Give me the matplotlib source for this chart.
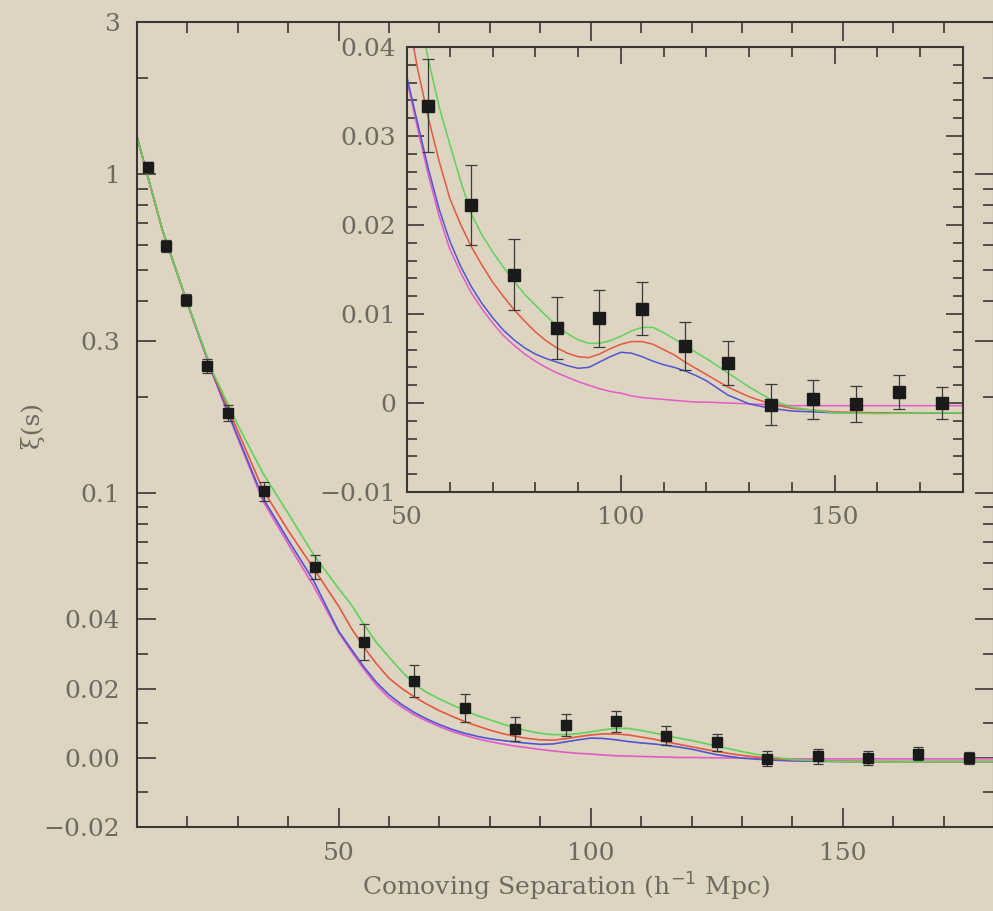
import numpy as np
import matplotlib
matplotlib.use("Agg")
import matplotlib.pyplot as plt

# measured correlation function, h^-1 Mpc
sep = [12.2, 15.8, 19.7, 23.9, 28.1, 35.2, 45.3, 55, 65, 75, 85, 95, 105,
       115, 125, 135, 145, 155, 165, 175]
xi = [1.05, 0.595, 0.403, 0.25, 0.178, 0.101, 0.0585, 0.0334, 0.0222, 0.0144,
      0.0084, 0.0095, 0.0106, 0.0064, 0.0045, -0.0002, 0.0004, -0.0001,
      0.0012, 0.0000]
xi_err = [0.04, 0.025, 0.018, 0.013, 0.01, 0.007, 0.005, 0.0052, 0.0045,
          0.004, 0.0035, 0.0032, 0.003, 0.0027, 0.0025, 0.0023, 0.0022,
          0.002, 0.0019, 0.0018]

# model curves
r_mod = [10, 12, 15, 20, 25, 30, 35, 40, 45, 50, 52.5, 55, 57.5, 60, 62.5, 65,
         67.5, 70, 72.5, 75, 77.5, 80, 82.5, 85, 87.5, 90, 92.5, 95, 97.5, 100,
         102.5, 105, 107.5, 110, 112.5, 115, 117.5, 120, 125, 130, 135, 140,
         150, 160, 170, 180]
xi_green = [1.31, 1.0, 0.67, 0.393, 0.24, 0.163, 0.115, 0.086, 0.064, 0.050,
            0.0445, 0.0386, 0.0333, 0.0291, 0.0250, 0.0213, 0.0189, 0.0170,
            0.0153, 0.0137, 0.0122, 0.0110, 0.0098, 0.0087, 0.0078, 0.0071,
            0.0067, 0.0067, 0.0070, 0.0075, 0.0081, 0.0085, 0.0085, 0.0079,
            0.0072, 0.0064, 0.0057, 0.0050, 0.0034, 0.0018, 0.0004, -0.0005,
            -0.0011, -0.0012, -0.0011, -0.0011]
xi_red = [1.31, 1.0, 0.67, 0.393, 0.238, 0.156, 0.102, 0.076, 0.058, 0.044,
          0.0375, 0.0320, 0.0272, 0.0230, 0.0201, 0.0176, 0.0155, 0.0136,
          0.0120, 0.0105, 0.0092, 0.0080, 0.0070, 0.0062, 0.0056, 0.0052,
          0.0051, 0.0055, 0.0061, 0.0066, 0.0069, 0.0069, 0.0066, 0.0060,
          0.0054, 0.0046, 0.0039, 0.0032, 0.0018, 0.0007, -0.0001, -0.0006,
          -0.0010, -0.0011, -0.0011, -0.0011]
xi_blue = [1.31, 1.0, 0.67, 0.393, 0.236, 0.150, 0.096, 0.071, 0.053, 0.0366,
           0.0314, 0.0263, 0.0218, 0.0182, 0.0154, 0.0131, 0.0112, 0.0096,
           0.0082, 0.0071, 0.0062, 0.0055, 0.0050, 0.0046, 0.0042, 0.0039,
           0.0040, 0.0046, 0.0052, 0.0057, 0.0056, 0.0052, 0.0047, 0.0043,
           0.0040, 0.0036, 0.0031, 0.0025, 0.0009, -0.0001, -0.0006, -0.0009,
           -0.0011, -0.0011, -0.0011, -0.0011]
xi_nobao = [1.31, 1.0, 0.67, 0.393, 0.235, 0.148, 0.094, 0.069, 0.051, 0.0362,
            0.0308, 0.0256, 0.0210, 0.0173, 0.0147, 0.0124, 0.0106, 0.0090,
            0.0076, 0.0065, 0.0055, 0.0047, 0.0040, 0.0034, 0.0029, 0.0024,
            0.0020, 0.0016, 0.0013, 0.0011, 0.0008, 0.0006, 0.0005, 0.0004,
            0.0003, 0.0002, 0.0001, 0.0001, 0.0000, -0.0001, -0.0002, -0.0003,
            -0.0003, -0.0003, -0.0003, -0.0003]

main_ticks = [3, 1, 0.3, 0.1, 0.04, 0.02, 0.0, -0.02]
main_ticklabels = ["3", "1", "0.3", "0.1", "0.04", "0.02", "0.00", "\u22120.02"]
main_minor = [2, 0.9, 0.8, 0.7, 0.6, 0.5, 0.4, 0.2, 0.09, 0.08, 0.07, 0.06,
              0.05, 0.03, 0.01, -0.01]
inset_ticks = [0.04, 0.03, 0.02, 0.01, 0.0, -0.01]
inset_ticklabels = ["0.04", "0.03", "0.02", "0.01", "0", "\u22120.01"]

BG = "#ddd5c1"
TXT = "#6e6a60"
AX = "#3c3630"
colors = {"green": "#5fd35a", "red": "#e5573f", "blue": "#5055d2",
          "nobao": "#e45ac8"}

plt.rcParams["font.family"] = ["DejaVu Serif"]


# linear below 0.04, logarithmic above, with matching slope at the join
def fwd(v):
    v = np.asarray(v, dtype=float)
    return np.where(v > 0.04, 0.04 * (1 + np.log(np.maximum(v, 1e-12) / 0.04)), v)


def inv(u):
    u = np.asarray(u, dtype=float)
    return np.where(u > 0.04, 0.04 * np.exp(np.minimum(u, 5) / 0.04 - 1), u)


fig = plt.figure(figsize=(9.93, 9.11), dpi=100, facecolor=BG)
ax = fig.add_axes([137 / 993, 1 - 827 / 911, 857 / 993, 805 / 911], facecolor=BG)
ax.set_yscale("function", functions=(fwd, inv))


def draw(a, lw, ms, cap):
    for key, ys in (("nobao", xi_nobao), ("blue", xi_blue), ("red", xi_red),
                    ("green", xi_green)):
        a.plot(r_mod, ys, color=colors[key], lw=lw, zorder=2)
    a.errorbar(sep, xi, yerr=xi_err, fmt="s", color="#1a1a1a", ms=ms,
               ecolor="#3a3a3a", elinewidth=0.9, capsize=cap, capthick=0.9,
               zorder=3)


draw(ax, 1.2, 7, 3.5)
ax.set_xlim(10, 180)
ax.set_ylim(-0.02, 3)
ax.set_xticks([50, 100, 150])
ax.set_xticks([20, 30, 40, 60, 70, 80, 90, 110, 120, 130, 140, 160, 170], minor=True)
ax.set_yticks(main_ticks)
ax.set_yticklabels(main_ticklabels)
ax.set_yticks(main_minor, minor=True)
ax.yaxis.set_minor_formatter(plt.NullFormatter())
ax.tick_params(which="both", direction="in", top=True, right=True, colors=AX,
               labelcolor=TXT, labelsize=18)
ax.tick_params(which="major", length=14, width=1.2, pad=12)
ax.tick_params(which="minor", length=8, width=1.2)
ax.tick_params(axis="x", which="major", pad=11)
for s in ax.spines.values():
    s.set_color(AX)
    s.set_linewidth(1.5)
ax.set_xlabel("Comoving Separation (h$^{-1}$ Mpc)", fontsize=18, color=TXT,
              labelpad=4)
ax.set_ylabel("\u03be(s)", fontsize=18, color=TXT, labelpad=0)

# inset with the linear zoom on the acoustic peak
ins = fig.add_axes([407 / 993, 1 - 492 / 911, 556 / 993, 445 / 911], facecolor=BG)
draw(ins, 1.1, 8, 4.5)
ins.set_xlim(50, 180)
ins.set_ylim(-0.01, 0.04)
ins.set_xticks([50, 100, 150])
ins.set_xticks([60, 70, 80, 90, 110, 120, 130, 140, 160, 170], minor=True)
ins.set_yticks(inset_ticks)
ins.set_yticklabels(inset_ticklabels)
ins.set_yticks(np.arange(-0.008, 0.04, 0.002), minor=True)
ins.yaxis.set_minor_formatter(plt.NullFormatter())
ins.tick_params(which="both", direction="in", top=True, right=True, colors=AX,
                labelcolor=TXT, labelsize=18)
ins.tick_params(which="major", length=12, width=1.2, pad=8)
ins.tick_params(which="minor", length=7, width=1.2)
ins.tick_params(axis="x", which="major", pad=10)
for s in ins.spines.values():
    s.set_color(AX)
    s.set_linewidth(1.5)

fig.savefig("out.png", dpi=100, facecolor=BG)
